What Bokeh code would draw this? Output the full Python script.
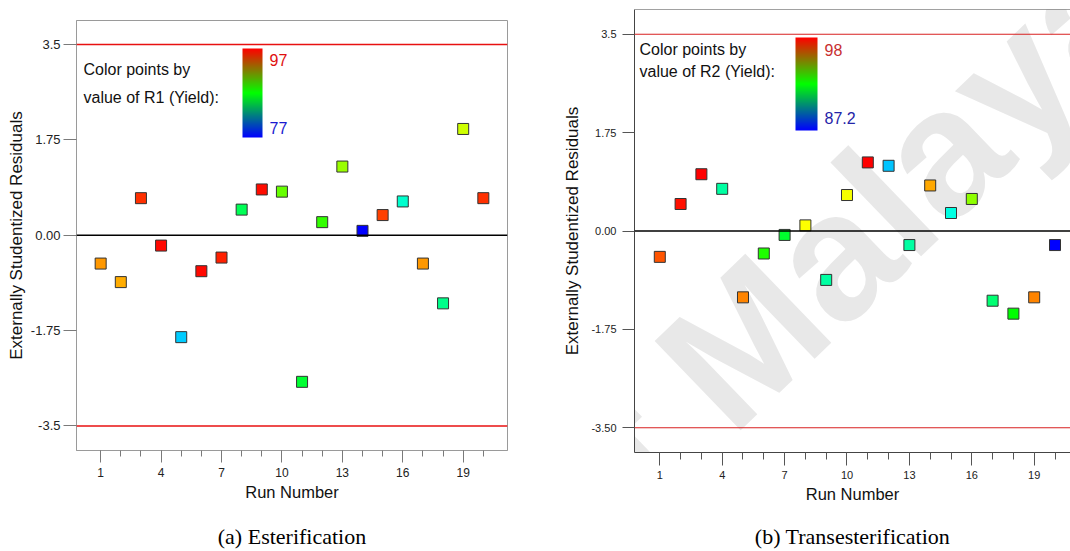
import colorsys
import math
from bokeh.plotting import figure
from bokeh.models import (Range1d, FixedTicker, Span, Label, ColorBar, LinearAxis,
                          LinearColorMapper, ColumnDataSource)
from bokeh.layouts import row, column
from bokeh.transform import linear_cmap
from bokeh.embed import file_html
from bokeh.resources import INLINE

# ---------------- data ----------------
runs = list(range(1, 21))
run_ticks = [1, 4, 7, 10, 13, 16, 19]
limits = [-3.5, 3.5]

resid_a = [-0.52, -0.86, 0.68, -0.19, -1.87, -0.66, -0.41, 0.47, 0.84, 0.80,
           -2.69, 0.24, 1.26, 0.08, 0.37, 0.62, -0.52, -1.25, 1.95, 0.68]
yield_a = [94.0, 93.6, 96.0, 96.8, 81.0, 96.8, 96.3, 85.3, 96.7, 89.0,
           86.0, 88.0, 90.0, 77.0, 95.7, 83.0, 94.0, 84.3, 91.0, 96.0]
yield_range_a = [77, 97]

resid_b = [-0.46, 0.48, 1.01, 0.75, -1.18, -0.40, -0.07, 0.10, -0.87, 0.64,
           1.22, 1.16, -0.25, 0.81, 0.32, 0.57, -1.24, -1.47, -1.18, -0.25]
yield_b = [97.1, 97.8, 98.0, 90.9, 96.6, 92.9, 92.1, 95.3, 90.9, 95.2,
           98.0, 89.3, 90.9, 96.2, 90.2, 94.1, 91.4, 92.6, 96.6, 87.2]
yield_range_b = [87.2, 98]

ytick_vals = [-3.5, -1.75, 0.0, 1.75, 3.5]
ytick_labels_a = ["-3.5", "-1.75", "0.00", "1.75", "3.5"]
ytick_labels_b = ["-3.50", "-1.75", "0.00", "1.75", "3.5"]

captions = ["(a) Esterification", "(b) Transesterification"]
legend_titles = [["Color points by", "value of R1 (Yield):"],
                 ["Color points by", "value of R2 (Yield):"]]
x_title = "Run Number"
y_title = "Externally Studentized Residuals"
watermark = "of Malaya"

# ---------------- palettes ----------------
def hue_palette(n=256):
    pal = []
    for i in range(n):
        h = (1 - i / (n - 1)) * 240 / 360
        r, g, b = colorsys.hsv_to_rgb(h, 1, 1)
        pal.append("#%02x%02x%02x" % (round(r * 255), round(g * 255), round(b * 255)))
    return pal

def rgb_palette(n=256):
    pal = []
    for i in range(n):
        t = i / (n - 1)
        if t < 0.5:
            u = t / 0.5
            r, g, b = 0, 255 * u, 255 * (1 - u)
        else:
            u = (t - 0.5) / 0.5
            r, g, b = 255 * u, 255 * (1 - u), 0
        pal.append("#%02x%02x%02x" % (round(r), round(g), round(b)))
    return pal

POINT_PAL = hue_palette()
LEGEND_PAL = rgb_palette()

FONT = "Liberation Sans"
SERIF = "Liberation Serif"
PAGE_X0, PAGE_Y0 = 0, 0


def make_panel(resid, yld, yrange, ylabels, legend_title, caption, cfg):
    W, H = cfg["W"], cfg["H"]
    fx0 = cfg["fig_left"]            # page x of figure
    fl, ft, fr, fb = cfg["frame"]    # page coords of frame
    p = figure(width=W, height=H,
               x_range=Range1d(*cfg["xr"]), y_range=Range1d(*cfg["yr"]),
               output_backend="svg", toolbar_location=None,
               min_border_left=fl - fx0, min_border_right=(fx0 + W) - fr,
               min_border_top=ft - PAGE_Y0, min_border_bottom=(PAGE_Y0 + H) - fb,
               background_fill_color="white", border_fill_color="white")
    p.grid.visible = False
    p.outline_line_color = cfg["outline"]
    axc = cfg["axis_color"]

    def rel(px, py):
        return px - fl, fb - py

    # watermark (drawn behind everything)
    wx, wy = rel(*cfg["wm_pos"])
    p.add_layout(Label(x=wx, y=wy, x_units="screen", y_units="screen", text=watermark,
                       text_font=FONT, text_font_style="bold", text_font_size="180px",
                       text_color="#e8e8e8", angle=math.radians(44),
                       text_align="center", text_baseline="middle", level="underlay"))

    # frame top edge when no full outline is drawn (the frame runs off the page)
    if cfg["outline"] is None:
        p.add_layout(Span(location=p.y_range.end, dimension="width",
                          line_color=axc, line_width=1.2))

    # reference lines
    p.add_layout(Span(location=0, dimension="width", line_color="black", line_width=1.5))
    for lim in limits:
        p.add_layout(Span(location=lim, dimension="width",
                          line_color=cfg["red"], line_width=cfg["red_w"]))

    src = ColumnDataSource(dict(run=runs, resid=resid, yld=yld))
    p.scatter(x="run", y="resid", source=src, marker="square", size=11,
              fill_color=linear_cmap("yld", POINT_PAL, yrange[0], yrange[1]),
              line_color="#333333", line_width=1)

    # axes
    xa = p.xaxis[0]
    xa.ticker = FixedTicker(ticks=run_ticks, minor_ticks=runs)
    xa.major_tick_out = cfg["xt_major"]
    xa.major_tick_in = 0
    xa.minor_tick_out = cfg["xt_minor"]
    xa.minor_tick_in = 0
    xa.axis_line_color = axc
    xa.major_tick_line_color = cfg["tick_color"]
    xa.minor_tick_line_color = cfg["tick_color"]
    xa.major_label_text_font = FONT
    xa.major_label_text_font_size = cfg["xt_font"]
    xa.major_label_text_color = "#222222"
    xa.major_label_standoff = 5
    xa.axis_label = x_title
    xa.axis_label_text_font = FONT
    xa.axis_label_text_font_size = "16.5px"
    xa.axis_label_text_font_style = "normal"
    xa.axis_label_text_color = "#111111"
    xa.axis_label_standoff = 3

    ya = p.yaxis[0]
    ya.ticker = FixedTicker(ticks=ytick_vals, minor_ticks=[])
    ya.major_label_overrides = {v: s for v, s in zip(ytick_vals, ylabels)}
    ya.major_tick_out = cfg["yt_major"]
    ya.major_tick_in = 0
    ya.axis_line_color = axc
    ya.major_tick_line_color = cfg["tick_color"]
    ya.major_label_text_font = FONT
    ya.major_label_text_font_size = cfg["yt_font"]
    ya.major_label_text_color = "#222222"
    ya.major_label_standoff = cfg["y_standoff"]
    ya.axis_label = y_title
    ya.axis_label_text_font = FONT
    ya.axis_label_text_font_size = "17px"
    ya.axis_label_text_font_style = "normal"
    ya.axis_label_text_color = "#111111"
    ya.axis_label_standoff = cfg["ylabel_standoff"]

    # caption: label of a bare axis stacked below the x axis
    cap = LinearAxis(ticker=FixedTicker(ticks=[]), axis_line_color=None,
                     major_tick_line_color=None, minor_tick_line_color=None,
                     major_tick_out=0, major_tick_in=0, minor_tick_out=0, minor_tick_in=0,
                     major_label_text_font_size="0px", major_label_standoff=0,
                     axis_label=caption, axis_label_text_font=SERIF,
                     axis_label_text_font_size="22px", axis_label_text_font_style="normal",
                     axis_label_text_color="#000000",
                     axis_label_standoff=cfg["cap_standoff"])
    p.add_layout(cap, "below")

    # colour legend
    bx, by, bw, bh = cfg["bar"]  # page: left, bottom, width, height
    lx, ly = rel(bx, by)
    cb = ColorBar(color_mapper=LinearColorMapper(palette=LEGEND_PAL,
                                                 low=yrange[0], high=yrange[1]),
                  location=(lx, ly), width=bw, height=bh, padding=0,
                  major_label_text_font_size="0px", major_tick_line_color=None,
                  bar_line_color=None, border_line_color=None,
                  background_fill_alpha=0, label_standoff=0,
                  ticker=FixedTicker(ticks=[]))
    p.add_layout(cb, "center")

    for txt, (px, py) in zip(legend_title, cfg["title_pos"]):
        tx, ty = rel(px, py)
        p.add_layout(Label(x=tx, y=ty, x_units="screen", y_units="screen", text=txt,
                           text_font=FONT, text_font_size="16px", text_color="#111111",
                           text_baseline="middle", text_align="left"))
    hi_txt = f"{yrange[1]:g}"
    lo_txt = f"{yrange[0]:g}"
    for txt, col, (px, py) in zip([hi_txt, lo_txt], cfg["lg_colors"], cfg["lg_pos"]):
        tx, ty = rel(px, py)
        p.add_layout(Label(x=tx, y=ty, x_units="screen", y_units="screen", text=txt,
                           text_font=FONT, text_font_size="16px", text_color=col,
                           text_baseline="middle", text_align="left"))
    return p


H = 551
W1 = 552
W2 = 1070 - W1

cfg_a = dict(W=W1, H=H, fig_left=0, frame=(76, 20, 507, 451),
             xr=(-0.2, 21.2), yr=(-3.95, 3.94), outline="#9a9a9a",
             axis_color="#9a9a9a", tick_color="#7a7a7a", red="#e81010", red_w=1.5,
             xt_major=12, xt_minor=6, yt_major=13, xt_font="12px", yt_font="13px",
             y_standoff=3, ylabel_standoff=2,
             bar=(242, 138, 20, 89), title_pos=[(83, 70), (83, 98)],
             lg_colors=["#e01010", "#1a1ad0"], lg_pos=[(269, 60), (269, 128)],
             cap_standoff=20, wm_pos=(825, 262))

cfg_b = dict(W=W2, H=H, fig_left=W1, frame=(634, 9, 1070, 453),
             xr=(-0.216, 20.745), yr=(-3.94, 3.94), outline=None,
             axis_color="#444444", tick_color="#555555", red="#d82020", red_w=1.2,
             xt_major=13, xt_minor=7, yt_major=12, xt_font="11px", yt_font="11px",
             y_standoff=6, ylabel_standoff=6,
             bar=(795, 131, 22, 93), title_pos=[(639, 50), (639, 72)],
             lg_colors=["#c83030", "#2424a8"], lg_pos=[(824, 50), (824, 118)],
             cap_standoff=18, wm_pos=(825, 262))

pa = make_panel(resid_a, yield_a, yield_range_a, ytick_labels_a, legend_titles[0],
                captions[0], cfg_a)
pb = make_panel(resid_b, yield_b, yield_range_b, ytick_labels_b, legend_titles[1],
                captions[1], cfg_b)

layout = row(column(pa), column(pb))
open("out.html", "w").write(file_html(layout, INLINE))
